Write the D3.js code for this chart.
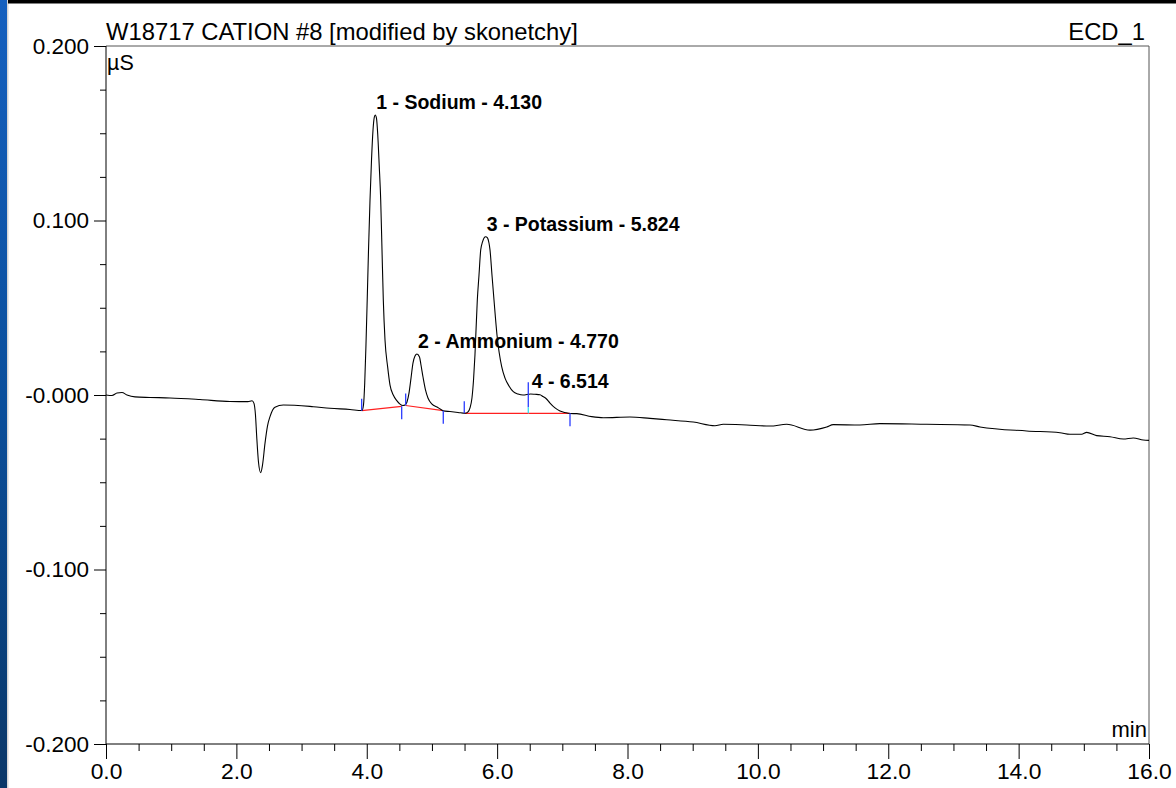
<!DOCTYPE html>
<html>
<head>
<meta charset="utf-8">
<script src="https://cdn.jsdelivr.net/npm/d3@7"></script>
<style>
  html, body { margin: 0; padding: 0; background: #ffffff; }
  svg { display: block; }
  text { font-family: "Liberation Sans", Arial, sans-serif; }
</style>
</head>
<body>
<svg id="chart" width="1176" height="788"></svg>
<script>
// Chromatogram trace: retention time (min) and conductivity (µS)
const time = [
  0.000, 0.092, 0.169, 0.245, 0.322, 0.445, 0.675, 0.982, 1.442, 1.902,
  2.178, 2.240, 2.270, 2.293, 2.312, 2.339, 2.373, 2.401, 2.439, 2.477,
  2.516, 2.592, 2.720, 3.180, 3.436, 3.743, 3.927,
  3.950, 3.969, 3.988, 4.007, 4.027, 4.050, 4.073, 4.096, 4.116, 4.130,
  4.149, 4.169, 4.191, 4.214, 4.234, 4.254, 4.280, 4.321, 4.357, 4.407,
  4.464, 4.510, 4.556,
  4.587, 4.617, 4.648, 4.679, 4.709, 4.740, 4.770, 4.809, 4.832, 4.863,
  4.901, 4.939, 5.001, 5.078, 5.139, 5.170, 5.277, 5.400, 5.507,
  5.553, 5.584, 5.614, 5.638, 5.660, 5.696, 5.722, 5.748, 5.776, 5.799,
  5.824, 5.852, 5.875, 5.891, 5.921, 5.952, 5.998, 6.070, 6.121, 6.182,
  6.248, 6.320, 6.397, 6.514, 6.581, 6.658, 6.704, 6.750, 6.811, 6.888,
  6.964, 7.041, 7.118,
  7.221, 7.451, 7.629, 8.038, 8.345, 8.601, 9.009, 9.342, 9.469, 9.828,
  10.186, 10.442, 10.799, 11.056, 11.157, 11.566, 11.873, 12.589, 13.254, 13.407,
  14.123, 14.634, 14.788, 14.967, 15.044, 15.197, 15.401, 15.606, 15.759, 15.912,
  16.000
];
const signal = [
  0.0000, -0.0003, 0.0011, 0.0014, 0.0000, -0.0011, -0.0014, -0.0017, -0.0026, -0.0037,
  -0.0038, -0.0033, -0.0048, -0.0115, -0.0239, -0.0384, -0.0445, -0.0401, -0.0277, -0.0178,
  -0.0124, -0.0070, -0.0057, -0.0067, -0.0076, -0.0083, -0.0089,
  -0.0057, 0.0069, 0.0287, 0.0544, 0.0831, 0.1117, 0.1347, 0.1519, 0.1593, 0.1605,
  0.1587, 0.1490, 0.1318, 0.1117, 0.0831, 0.0544, 0.0315, 0.0160, 0.0057, 0.0000,
  -0.0034, -0.0052, -0.0060,
  -0.0057, -0.0040, 0.0011, 0.0097, 0.0183, 0.0223, 0.0235, 0.0218, 0.0172, 0.0103,
  0.0029, -0.0017, -0.0052, -0.0069, -0.0083, -0.0090, -0.0095, -0.0100, -0.0105,
  -0.0097, -0.0074, -0.0017, 0.0086, 0.0229, 0.0544, 0.0688, 0.0831, 0.0877, 0.0900,
  0.0907, 0.0900, 0.0871, 0.0831, 0.0688, 0.0544, 0.0344, 0.0162, 0.0097, 0.0052,
  0.0019, 0.0006, 0.0000, 0.0006, 0.0004, 0.0001, -0.0009, -0.0020, -0.0046, -0.0074,
  -0.0092, -0.0100, -0.0106,
  -0.0107, -0.0124, -0.0130, -0.0126, -0.0134, -0.0142, -0.0155, -0.0176, -0.0168, -0.0172,
  -0.0178, -0.0168, -0.0201, -0.0183, -0.0170, -0.0172, -0.0164, -0.0168, -0.0172, -0.0183,
  -0.0206, -0.0216, -0.0225, -0.0225, -0.0214, -0.0233, -0.0239, -0.0252, -0.0246, -0.0258,
  -0.0260
];

// Integrated peaks
const peakNo = [1, 2, 3, 4];
const peakName = ["Sodium", "Ammonium", "Potassium", ""];
const peakRT = [4.130, 4.770, 5.824, 6.514];
const peakHeight = [0.1605, 0.0235, 0.0907, 0.0006];

// Integration baselines (start / end of each peak)
const baseStartT = [3.922, 4.597, 5.496, 6.478];
const baseStartV = [-0.0090, -0.0060, -0.0105, -0.0105];
const baseEndT = [4.536, 5.174, 6.478, 7.118];
const baseEndV = [-0.0065, -0.0090, -0.0105, -0.0105];

// Axis ticks
const xMajorTicks = [0, 2, 4, 6, 8, 10, 12, 14, 16];
const xTickLabels = ["0.0", "2.0", "4.0", "6.0", "8.0", "10.0", "12.0", "14.0", "16.0"];
const yMajorTicks = [0.2, 0.1, 0, -0.1, -0.2];
const yTickLabels = ["0.200", "0.100", "-0.000", "-0.100", "-0.200"];

const titleText = "W18717 CATION #8 [modified by skonetchy]";
const channelText = "ECD_1";

const W = 1176, H = 788;
const plot = { left: 106, right: 1149, top: 46, bottom: 744 };

const svg = d3.select("#chart");
const defs = svg.append("defs");

// window frame: blue strip on the left, black strip on top
const grad = defs.append("linearGradient").attr("id", "frameBlue")
  .attr("x1", 0).attr("y1", 0).attr("x2", 0).attr("y2", 1);
grad.append("stop").attr("offset", "0%").attr("stop-color", "#1560bf");
grad.append("stop").attr("offset", "50%").attr("stop-color", "#0b4f9c");
grad.append("stop").attr("offset", "100%").attr("stop-color", "#0a3768");

svg.append("rect").attr("x", 0).attr("y", 0).attr("width", W).attr("height", H).attr("fill", "#ffffff");
svg.append("rect").attr("x", 0).attr("y", 0).attr("width", 7).attr("height", H).attr("fill", "url(#frameBlue)");
svg.append("rect").attr("x", 7).attr("y", 0).attr("width", 1.5).attr("height", H).attr("fill", "#d6d6d6");
svg.append("rect").attr("x", 8).attr("y", 0).attr("width", W - 8).attr("height", 3.5).attr("fill", "#000000");

const x = d3.scaleLinear().domain([0, 16]).range([plot.left, plot.right]);
const y = d3.scaleLinear().domain([-0.2, 0.2]).range([plot.bottom, plot.top]);

// top and right frame lines
svg.append("line")
  .attr("x1", plot.left).attr("x2", plot.right)
  .attr("y1", plot.top).attr("y2", plot.top)
  .attr("stroke", "#555").attr("stroke-width", 1);
svg.append("line")
  .attr("x1", plot.right).attr("x2", plot.right)
  .attr("y1", plot.top).attr("y2", plot.bottom)
  .attr("stroke", "#555").attr("stroke-width", 1);

// Y axis: major ticks with labels, minor ticks every 0.025
const yMinor = d3.range(-8, 9).map(i => i * 0.025).filter(v => Math.abs(Math.round(v * 1000) % 100) !== 0);
svg.append("g")
  .attr("transform", `translate(${plot.left},0)`)
  .call(d3.axisLeft(y).tickValues(yMinor).tickSize(6).tickFormat("").tickSizeOuter(0))
  .call(g => g.select(".domain").remove())
  .call(g => g.selectAll("line").attr("stroke", "#000"));
const yAxis = svg.append("g")
  .attr("transform", `translate(${plot.left},0)`)
  .call(d3.axisLeft(y).tickValues(yMajorTicks).tickSize(12).tickPadding(5).tickSizeOuter(0)
    .tickFormat((d, i) => yTickLabels[i]));
yAxis.select(".domain").remove();
yAxis.selectAll("line").attr("stroke", "#000");
yAxis.selectAll("text").attr("font-size", 22.5).attr("fill", "#000")
  .style("font-family", "'Liberation Sans', Arial, sans-serif");

// X axis: major ticks every 2 min, minor every 0.5 min
const xMinor = d3.range(0, 33).map(i => i * 0.5).filter(v => v % 2 !== 0);
svg.append("g")
  .attr("transform", `translate(0,${plot.bottom})`)
  .call(d3.axisBottom(x).tickValues(xMinor).tickSize(7).tickFormat("").tickSizeOuter(0))
  .call(g => g.select(".domain").remove())
  .call(g => g.selectAll("line").attr("stroke", "#000"));
const xAxis = svg.append("g")
  .attr("transform", `translate(0,${plot.bottom})`)
  .call(d3.axisBottom(x).tickValues(xMajorTicks).tickSize(15).tickPadding(4).tickSizeOuter(0)
    .tickFormat((d, i) => xTickLabels[i]));
xAxis.select(".domain").remove();
xAxis.selectAll("line").attr("stroke", "#000");
xAxis.selectAll("text").attr("font-size", 22.8).attr("fill", "#000")
  .style("font-family", "'Liberation Sans', Arial, sans-serif");

// axis lines
svg.append("line")
  .attr("x1", plot.left).attr("x2", plot.left)
  .attr("y1", plot.top).attr("y2", plot.bottom)
  .attr("stroke", "#000").attr("stroke-width", 1);
svg.append("line")
  .attr("x1", plot.left).attr("x2", plot.right)
  .attr("y1", plot.bottom).attr("y2", plot.bottom)
  .attr("stroke", "#000").attr("stroke-width", 1);

// titles and units
svg.append("text").attr("x", plot.left).attr("y", 40)
  .attr("font-size", 23.8).attr("fill", "#000").text(titleText);
svg.append("text").attr("x", 1145).attr("y", 40).attr("text-anchor", "end")
  .attr("font-size", 23.8).attr("fill", "#000").text(channelText);
svg.append("text").attr("x", plot.left + 1).attr("y", 70)
  .attr("font-size", 21.5).attr("fill", "#000").text("µS");
svg.append("text").attr("x", plot.right - 2).attr("y", 737).attr("text-anchor", "end")
  .attr("font-size", 22).attr("fill", "#000").text("min");

// integration baselines
const peaks = peakNo.map((n, i) => ({
  n, name: peakName[i], rt: peakRT[i], h: peakHeight[i],
  t0: baseStartT[i], v0: baseStartV[i], t1: baseEndT[i], v1: baseEndV[i]
}));

svg.append("g").selectAll("line").data(peaks).join("line")
  .attr("x1", d => x(d.t0)).attr("y1", d => y(d.v0))
  .attr("x2", d => x(d.t1)).attr("y2", d => y(d.v1))
  .attr("stroke", "#ff2020").attr("stroke-width", 1.2);

// signal trace
const line = d3.line().x((d, i) => x(time[i])).y(d => y(d)).curve(d3.curveMonotoneX);
svg.append("path")
  .attr("d", line(signal))
  .attr("fill", "none")
  .attr("stroke", "#000")
  .attr("stroke-width", 1.1);

// interpolated trace value for delimiter marks
const traceAt = t => {
  const i = d3.bisectLeft(time, t);
  if (i <= 0) return signal[0];
  if (i >= time.length) return signal[signal.length - 1];
  const f = (t - time[i - 1]) / (time[i] - time[i - 1]);
  return signal[i - 1] + f * (signal[i] - signal[i - 1]);
};

// peak delimiter marks: start marks point up, end marks point down
const marks = svg.append("g");
peaks.forEach((p, i) => {
  const prev = peaks[i - 1];
  const next = peaks[i + 1];
  const sharedStart = prev && prev.t1 === p.t0;
  const sharedEnd = next && next.t0 === p.t1;
  const xs = x(p.t0), ys = y(p.v0);
  if (sharedStart) {
    const yt = y(traceAt(p.t0)) - 12;
    marks.append("line").attr("x1", xs).attr("x2", xs).attr("y1", yt).attr("y2", ys - 6)
      .attr("stroke", "#2a3cff").attr("stroke-width", 1.3);
    marks.append("line").attr("x1", xs).attr("x2", xs).attr("y1", ys - 6).attr("y2", ys)
      .attr("stroke", "#30e0f0").attr("stroke-width", 1.3);
  } else {
    marks.append("line").attr("x1", xs).attr("x2", xs).attr("y1", ys - 12).attr("y2", ys)
      .attr("stroke", "#2a3cff").attr("stroke-width", 1.3);
  }
  if (!sharedEnd) {
    const xe = x(p.t1), ye = y(p.v1);
    marks.append("line").attr("x1", xe).attr("x2", xe).attr("y1", ye).attr("y2", ye + 13)
      .attr("stroke", "#2a3cff").attr("stroke-width", 1.3);
  }
});

// peak labels
svg.append("g").selectAll("text").data(peaks).join("text")
  .attr("x", d => x(d.rt) + 1)
  .attr("y", d => y(d.h) - 6)
  .attr("font-size", 19.5)
  .attr("font-weight", "bold")
  .attr("fill", "#000")
  .text(d => d.name ? `${d.n} - ${d.name} - ${d.rt.toFixed(3)}` : `${d.n} - ${d.rt.toFixed(3)}`);
</script>
</body>
</html>
